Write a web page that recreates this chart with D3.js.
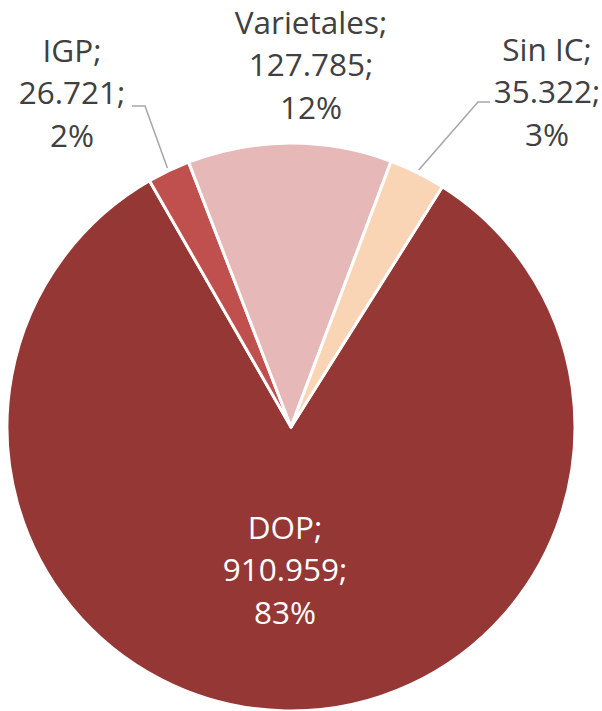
<!DOCTYPE html>
<html>
<head>
<meta charset="utf-8">
<script src="https://cdn.jsdelivr.net/npm/d3@7"></script>
<style>
  body { margin: 0; background: #fff; }
  text { font-family: "Open Sans", sans-serif; }
</style>
</head>
<body>
<script>
// Data
var categories = ["DOP", "IGP", "Varietales", "Sin IC"];
var values = [910.959, 26.721, 127.785, 35.322];
var valueLabels = ["910.959", "26.721", "127.785", "35.322"];
var percentLabels = ["83%", "2%", "12%", "3%"];
var colors = ["#953735", "#C0504D", "#E6B9B8", "#FAD5B5"];

// Layout
var width = 602, height = 711;
var cx = 291, cy = 427, radius = 284;
var startDeg = 32.2;
var lineGap = 42.5;
// label centers (middle line) and leader elbow for outside labels
var labelPos = [
  { x: 285, y: 570, fill: "#ffffff" },
  { x: 72, y: 93, fill: "#404040", elbow: [[132, 106], [145, 106]] },
  { x: 311, y: 65, fill: "#404040" },
  { x: 547, y: 92, fill: "#404040", elbow: [[490, 102], [478, 102]] }
];

var svg = d3.select("body").append("svg")
  .attr("width", width)
  .attr("height", height);

var g = svg.append("g").attr("transform", "translate(" + cx + "," + cy + ")");

var start = startDeg * Math.PI / 180;
var pie = d3.pie().sort(null).value(function (d) { return d; })
  .startAngle(start).endAngle(start + 2 * Math.PI);
var arcs = pie(values);
var arc = d3.arc().innerRadius(0).outerRadius(radius);

// slices
g.selectAll("path.slice")
  .data(arcs)
  .enter().append("path")
  .attr("class", "slice")
  .attr("d", arc)
  .attr("fill", function (d, i) { return colors[i]; })
  .attr("stroke", "#ffffff")
  .attr("stroke-width", 3)
  .attr("stroke-linejoin", "round");

// leader lines
arcs.forEach(function (d, i) {
  var p = labelPos[i];
  if (!p.elbow) return;
  var mid = (d.startAngle + d.endAngle) / 2;
  var ex = cx + Math.sin(mid) * (radius + 3);
  var ey = cy - Math.cos(mid) * (radius + 3);
  var pts = p.elbow.concat([[ex, ey]]);
  svg.append("path")
    .attr("d", d3.line()(pts))
    .attr("fill", "none")
    .attr("stroke", "#A6A6A6")
    .attr("stroke-width", 1.5);
});

// labels
categories.forEach(function (c, i) {
  var p = labelPos[i];
  var lines = [c + ";", valueLabels[i] + ";", percentLabels[i]];
  var t = svg.append("text")
    .attr("text-anchor", "middle")
    .attr("font-size", 31.5)
    .attr("fill", p.fill);
  lines.forEach(function (l, k) {
    t.append("tspan")
      .attr("x", p.x)
      .attr("y", p.y + (k - 1) * lineGap)
      .attr("dy", "0.35em")
      .text(l);
  });
});
</script>
</body>
</html>
